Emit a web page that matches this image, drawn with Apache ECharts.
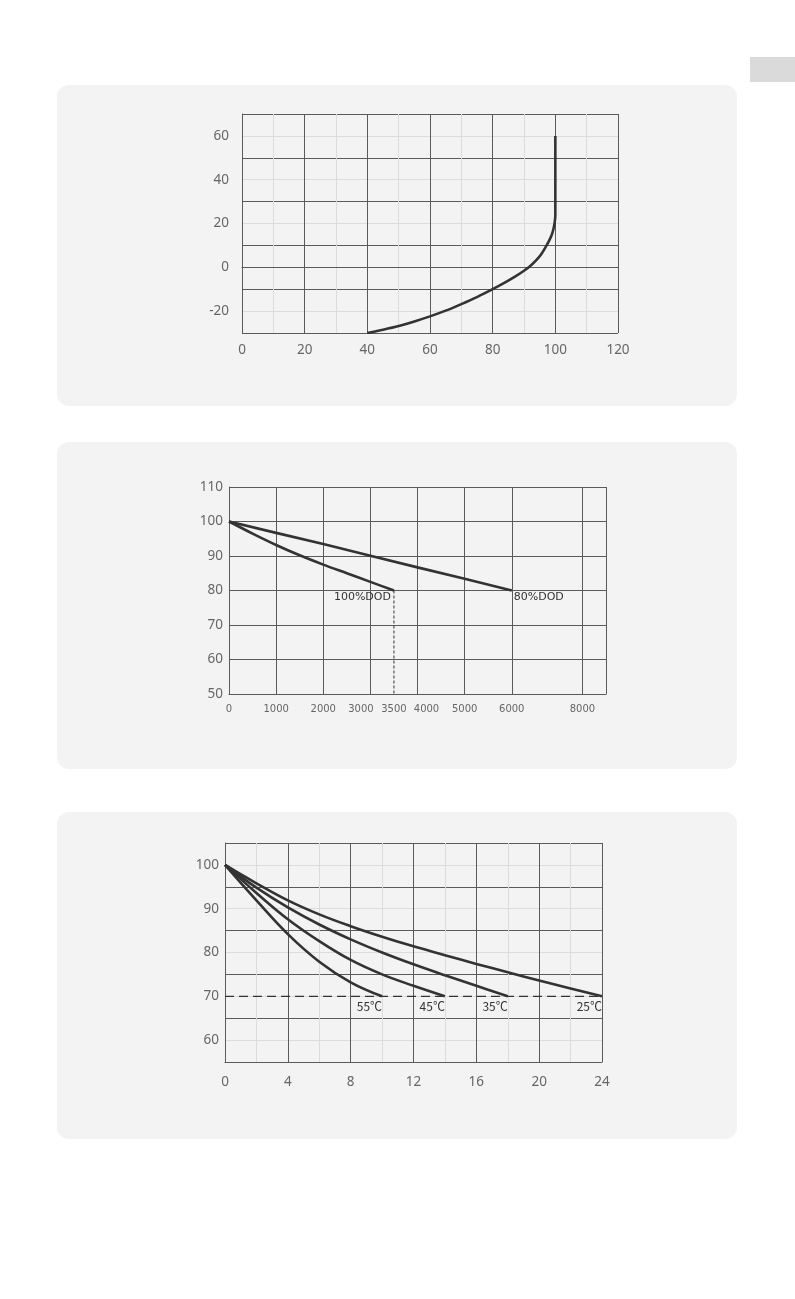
<!DOCTYPE html>
<html>
<head>
<meta charset="utf-8">
<script src="https://cdn.jsdelivr.net/npm/echarts@6/dist/echarts.min.js"></script>
<style>
  html, body { margin: 0; padding: 0; background: #fff; }
  #page { width: 795px; height: 1299px; }
</style>
</head>
<body>
<div id="page"></div>
<script>
// chart 1: temperature vs capacity
const capPct = [40, 45, 50, 55, 60, 65, 70, 75, 80, 84, 87, 90, 92, 94, 95.5, 96.8, 97.9, 98.8, 99.4, 99.8, 100, 100];
const tempC = [-30, -28.5, -26.8, -24.7, -22.4, -19.8, -16.8, -13.6, -10, -6.9, -4.4, -1.6, 0.6, 3.4, 6.0, 9.0, 11.8, 14.6, 17.5, 20.5, 24, 60];
const tempXLabels = [0, 20, 40, 60, 80, 100, 120];
const tempYLabels = [-20, 0, 20, 40, 60];

// chart 2: capacity vs cycles
const cycles100 = [0, 500, 1000, 1500, 2000, 2500, 3000, 3500];
const cap100 = [100, 96.5, 93.2, 90.2, 87.5, 85.0, 82.5, 80];
const cycles80 = [0, 1000, 2000, 3000, 4000, 5000, 6000];
const cap80 = [100, 96.7, 93.5, 90.1, 86.7, 83.4, 80];
const cycleTicks = [0, 1000, 2000, 3000, 3500, 4000, 5000, 6000, 7500];
const cycleTickLabels = ['0', '1000', '2000', '3000', '3500', '4000', '5000', '6000', '8000'];

// chart 3: capacity vs time at temperature
const timeX = [0, 2, 4, 6, 8, 10, 12, 14, 16, 18, 20, 22, 24];
const cap25 = [100, 95.8, 91.9, 88.7, 86.0, 83.6, 81.4, 79.4, 77.4, 75.5, 73.6, 71.8, 70];
const cap35 = [100, 94.8, 90.3, 86.4, 83.0, 80.0, 77.3, 74.8, 72.4, 70];
const cap45 = [100, 93.6, 87.6, 82.6, 78.3, 75.0, 72.4, 70];
const cap55 = [100, 91.9, 84.2, 77.9, 73.2, 70];
const tempNames = ['25℃', '35℃', '45℃', '55℃'];
const timeLabels = [0, 4, 8, 12, 16, 20, 24];
const capLabels = [60, 70, 80, 90, 100];

const dark = '#5a5a5a';
const light = '#dcdcdc';
const curve = '#333';
const labelColor = '#666';

function zip(xs, ys) {
  return ys.map((y, i) => [xs[i], y]);
}

function valueAxis(gridIndex, min, max, interval, colors, labels, extra) {
  return Object.assign({
    type: 'value',
    gridIndex: gridIndex,
    min: min,
    max: max,
    interval: interval,
    axisLine: { show: true, lineStyle: { color: dark, width: 1 } },
    axisTick: { show: false },
    axisLabel: {
      customValues: labels,
      color: labelColor,
      fontFamily: 'Noto Sans',
      fontSize: 13
    },
    splitLine: { show: true, lineStyle: { color: colors, width: 1 } }
  }, extra || {});
}

function lineSeries(grid, data, extra) {
  return Object.assign({
    type: 'line',
    xAxisIndex: grid,
    yAxisIndex: grid,
    data: data,
    symbol: 'none',
    showSymbol: false,
    lineStyle: { color: curve, width: 2.6 },
    z: 5
  }, extra || {});
}

// x split line colours for chart 2 (ticks every 500)
const cycleSplitColors = [];
for (let v = 0; v <= 8000; v += 500) {
  cycleSplitColors.push((v <= 6000 && v % 1000 === 0) || v === 7500 || v === 8000 ? dark : 'rgba(0,0,0,0)');
}

const panel = (y, h) => ({
  type: 'rect',
  shape: { x: 57, y: y, width: 680, height: h, r: 12 },
  style: { fill: '#f3f3f3' },
  z: -10
});

const chart = echarts.init(document.getElementById('page'));

chart.setOption({
  animation: false,
  backgroundColor: '#fff',
  graphic: [
    panel(85, 321),
    panel(442, 327),
    panel(812, 327),
    { type: 'rect', shape: { x: 750, y: 57, width: 45, height: 25 }, style: { fill: '#dadada' }, z: -10 }
  ],
  grid: [
    { left: 242, top: 114, width: 376, height: 219 },
    { left: 229, top: 487, width: 377, height: 207 },
    { left: 225, top: 843, width: 377, height: 219 }
  ],
  xAxis: [
    valueAxis(0, 0, 120, 10, [dark, light], tempXLabels, {
      axisLabel: { customValues: tempXLabels, color: labelColor, fontFamily: 'Noto Sans', fontSize: 13.5, margin: 10 }
    }),
    valueAxis(1, 0, 8000, 500, cycleSplitColors, cycleTicks, {
      axisLabel: {
        customValues: cycleTicks,
        color: labelColor,
        fontFamily: 'DejaVu Sans',
        fontSize: 10,
        margin: 10,
        formatter: function (v) {
          const i = cycleTicks.indexOf(v);
          const t = i >= 0 ? cycleTickLabels[i] : '';
          if (v === 3000) return '{l|' + t + '}';
          if (v === 4000) return '{r|' + t + '}';
          return t;
        },
        rich: {
          l: { padding: [0, 19, 0, 0], fontFamily: 'DejaVu Sans', fontSize: 10, color: labelColor },
          r: { padding: [0, 0, 0, 18], fontFamily: 'DejaVu Sans', fontSize: 10, color: labelColor }
        }
      }
    }),
    valueAxis(2, 0, 24, 2, [dark, light], timeLabels, {
      axisLabel: { customValues: timeLabels, color: labelColor, fontFamily: 'Noto Sans', fontSize: 13.5, margin: 13 }
    })
  ],
  yAxis: [
    valueAxis(0, -30, 70, 10, [dark, light], tempYLabels, {
      axisLabel: { customValues: tempYLabels, color: labelColor, fontFamily: 'Noto Sans', fontSize: 13.5, margin: 13 }
    }),
    valueAxis(1, 50, 110, 10, [dark], [50, 60, 70, 80, 90, 100, 110], {
      axisLabel: { customValues: [50, 60, 70, 80, 90, 100, 110], color: labelColor, fontFamily: 'Noto Sans', fontSize: 13.5, margin: 6 }
    }),
    valueAxis(2, 55, 105, 5, [dark, light], capLabels, {
      axisLabel: { customValues: capLabels, color: labelColor, fontFamily: 'Noto Sans', fontSize: 13.5, margin: 6 }
    })
  ],
  series: [
    lineSeries(0, zip(capPct, tempC), { smooth: 0.25 }),

    lineSeries(1, zip(cycles100, cap100), {
      smooth: 0.3,
      endLabel: {
        show: true, formatter: '100%DOD', align: 'right', verticalAlign: 'top',
        distance: 0, offset: [-3, 1], color: curve, fontFamily: 'DejaVu Sans', fontSize: 11
      }
    }),
    lineSeries(1, zip(cycles80, cap80), {
      endLabel: {
        show: true, formatter: '80%DOD', align: 'left', verticalAlign: 'top',
        distance: 0, offset: [2, 1], color: curve, fontFamily: 'DejaVu Sans', fontSize: 11
      }
    }),
    lineSeries(1, [[cycles100[cycles100.length - 1], 80], [cycles100[cycles100.length - 1], 50]], {
      lineStyle: { color: curve, width: 1, type: [3, 2] }, z: 4
    }),

    lineSeries(2, [[0, 70], [24, 70]], {
      lineStyle: { color: curve, width: 1.2, type: [9, 5] }, z: 4
    }),
    ...[cap25, cap35, cap45, cap55].map((arr, k) => lineSeries(2, zip(timeX, arr), {
      smooth: 0.4,
      endLabel: {
        show: true, formatter: tempNames[k], align: 'right', verticalAlign: 'top',
        distance: 0, offset: [0, 4], color: curve, fontFamily: 'Noto Sans CJK SC', fontSize: 12
      }
    }))
  ]
});
</script>
</body>
</html>
